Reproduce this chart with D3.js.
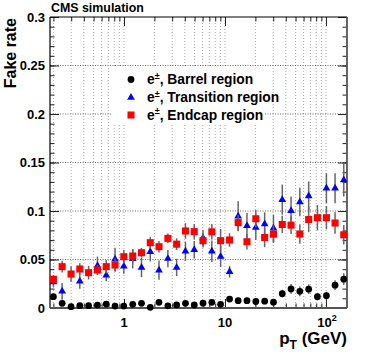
<!DOCTYPE html>
<html>
<head>
<meta charset="utf-8">
<script src="https://cdn.jsdelivr.net/npm/d3@7"></script>
<style>
  body { margin: 0; background: #fff; }
  svg { display: block; font-family: "Liberation Sans", Arial, sans-serif; font-weight: bold; }
</style>
</head>
<body>
<div id="chart"></div>
<script>
// pT bin positions (GeV)
const pt = [0.2, 0.244, 0.299, 0.365, 0.446, 0.546, 0.667, 0.815, 0.996, 1.22, 1.49, 1.82, 2.22, 2.72, 3.32, 4.06, 4.96,
    6.06, 7.41, 9.05, 11.1, 13.5, 16.5, 20.2, 24.7, 30.2, 36.9, 45.1, 55.1, 67.4, 82.3, 101, 123, 150];
// fake rates per region
const barrel = [0.0117, 0.0048, 0.0014, 0.0024, 0.0024, 0.003, 0.0041, 0.002, 0.002, 0.0038, 0.0048, 0.0007, 0.0058, 0.0022,
    0.0032, 0.0048, 0.0032, 0.005, 0.0058, 0.0038, 0.0092, 0.0076, 0.0076, 0.0067, 0.007, 0.006, 0.0148, 0.0197, 0.0172,
    0.0194, 0.0117, 0.0127, 0.0235, 0.0297];
const barrelErr = [0.003, 0.002, 0.001, 0.0015, 0.0015, 0.0015, 0.002, 0.0015, 0.0015, 0.002, 0.002, 0.001, 0.002, 0.0015,
    0.002, 0.002, 0.002, 0.002, 0.0025, 0.002, 0.003, 0.003, 0.003, 0.003, 0.003, 0.003, 0.004, 0.005, 0.005, 0.005, 0.004,
    0.004, 0.005, 0.006];
const transition = [0.0268, 0.0172, null, 0.0275, null, 0.0435, 0.0337, 0.0502, 0.043, 0.0508, 0.0418, 0.058, 0.039, 0.0509,
    0.0418, 0.0585, 0.06, 0.0722, 0.0585, 0.0532, 0.0374, 0.0945, 0.0849, 0.0831, 0.0866, 0.0823, 0.1117, 0.1003, 0.1093,
    0.1155, null, 0.1234, 0.1234, 0.132];
const transitionErr = [0.005, 0.0086, null, 0.0077, null, 0.0095, 0.006, 0.012, 0.0077, 0.01, 0.01, 0.01, 0.01, 0.009, 0.009,
    0.01, 0.009, 0.008, 0.011, 0.011, 0.006, 0.0155, 0.013, 0.013, 0.012, 0.014, 0.0155, 0.0146, 0.0146, 0.015, null, 0.0155,
    0.0155, 0.017];
const endcap = [0.0296, 0.0426, 0.035, 0.0402, 0.0364, 0.0392, 0.0426, 0.0443, 0.0529, 0.0536, 0.057, 0.0673, 0.0632, 0.0718,
    0.0658, 0.0794, 0.0787, 0.0694, 0.0785, 0.0694, 0.0701, 0.088, 0.0683, 0.092, 0.0727, 0.0761, 0.0861, 0.0854, 0.0763,
    0.0912, 0.0931, 0.0931, 0.0876, 0.0755];
const endcapErr = [0.0045, 0.006, 0.008, 0.006, 0.007, 0.005, 0.007, 0.007, 0.007, 0.007, 0.005, 0.006, 0.006, 0.005, 0.006,
    0.008, 0.008, 0.007, 0.008, 0.012, 0.007, 0.008, 0.008, 0.009, 0.01, 0.009, 0.009, 0.009, 0.01, 0.013, 0.013, 0.012, 0.011,
    0.01];
// axis ticks
const xMajor = [1, 10, 100];
const xMinor = [0.2, 0.3, 0.4, 0.5, 0.6, 0.7, 0.8, 0.9, 2, 3, 4, 5, 6, 7, 8, 9, 20, 30, 40, 50, 60, 70, 80, 90];
const xLabels = ["1", "10", "10"];
const yMajor = [0, 0.05, 0.1, 0.15, 0.2, 0.25, 0.3];
const yLabels = ["0", "0.05", "0.1", "0.15", "0.2", "0.25", "0.3"];
const yMinor = d3.range(0, 0.301, 0.01);
const legendLabels = ["Barrel region", "Transition region", "Endcap region"];

const width = 374, height = 355;
const plotL = 50, plotR = 347, plotT = 17, plotB = 308;

const svg = d3.select("#chart").append("svg")
    .attr("width", width)
    .attr("height", height);

const x = d3.scaleLog().domain([0.185, 161.5]).range([plotL, plotR]);
const y = d3.scaleLinear().domain([0, 0.3]).range([plotB, plotT]);

// grid
svg.append("g").selectAll("line")
    .data(xMajor.concat(xMinor))
    .join("line")
    .attr("x1", d => x(d)).attr("x2", d => x(d))
    .attr("y1", plotT).attr("y2", plotB)
    .attr("stroke", "#aaa").attr("stroke-width", 1).attr("stroke-dasharray", "1,2");
svg.append("g").selectAll("line")
    .data(yMajor.slice(1, -1))
    .join("line")
    .attr("x1", plotL).attr("x2", plotR)
    .attr("y1", d => y(d)).attr("y2", d => y(d))
    .attr("stroke", "#666").attr("stroke-width", 1).attr("stroke-dasharray", "1,1.5");

// legend box hides the grid behind it
svg.append("rect")
    .attr("x", 111).attr("y", 68).attr("width", 154).attr("height", 56)
    .attr("fill", "#fff");

// axes (ticks inward)
const tickAxis = (axis, len, tv, tr) => svg.append("g")
    .attr("transform", tr)
    .call(axis.tickValues(tv).tickSize(len).tickFormat(""))
    .call(g => g.select(".domain").remove())
    .call(g => g.selectAll("line").attr("stroke", "#222"));
tickAxis(d3.axisTop(x), 9, xMajor, `translate(0,${plotB})`);
tickAxis(d3.axisTop(x), 4.5, xMinor, `translate(0,${plotB})`);
tickAxis(d3.axisBottom(x), 9, xMajor, `translate(0,${plotT})`);
tickAxis(d3.axisBottom(x), 4.5, xMinor, `translate(0,${plotT})`);
tickAxis(d3.axisRight(y), 9, yMajor, `translate(${plotL},0)`);
tickAxis(d3.axisRight(y), 4.5, yMinor, `translate(${plotL},0)`);
tickAxis(d3.axisLeft(y), 9, yMajor, `translate(${plotR},0)`);
tickAxis(d3.axisLeft(y), 4.5, yMinor, `translate(${plotR},0)`);

// frame
svg.append("line").attr("x1", plotL).attr("x2", plotL).attr("y1", plotT).attr("y2", plotB)
    .attr("stroke", "#000").attr("stroke-width", 1.2);
svg.append("line").attr("x1", plotL).attr("x2", plotR).attr("y1", plotT).attr("y2", plotT)
    .attr("stroke", "#000").attr("stroke-width", 1);
svg.append("line").attr("x1", plotR).attr("x2", plotR).attr("y1", plotT).attr("y2", plotB)
    .attr("stroke", "#555").attr("stroke-width", 1.8);
svg.append("line").attr("x1", plotL).attr("x2", plotR).attr("y1", plotB).attr("y2", plotB)
    .attr("stroke", "#555").attr("stroke-width", 1.8);

// tick labels
svg.append("g").selectAll("text")
    .data(yMajor)
    .join("text")
    .attr("x", 45).attr("y", d => y(d) + 4.7)
    .attr("text-anchor", "end")
    .attr("font-size", 13)
    .text((d, i) => yLabels[i]);
const xl = svg.append("g").selectAll("text")
    .data(xMajor)
    .join("text")
    .attr("x", d => x(d) + (d === 100 ? 1 : 0)).attr("y", 327)
    .attr("text-anchor", "middle")
    .attr("font-size", 13)
    .text((d, i) => xLabels[i]);
xl.filter(d => d === 100).append("tspan")
    .attr("font-size", 9).attr("dy", -6).text("2");

// titles
svg.append("text").attr("x", 51).attr("y", 11.6).attr("font-size", 12.4).text("CMS simulation");
svg.append("text")
    .attr("transform", "translate(15.5,18) rotate(-90)")
    .attr("text-anchor", "end")
    .attr("font-size", 16)
    .text("Fake rate");
const xt = svg.append("text").attr("x", 347).attr("y", 344).attr("text-anchor", "end").attr("font-size", 17);
xt.append("tspan").text("p");
xt.append("tspan").attr("font-size", 12).attr("dy", 5).text("T");
xt.append("tspan").attr("dy", -5).text(" (GeV)");

// series
const series = [
    { vals: barrel, errs: barrelErr, color: "#000", shape: d3.symbolCircle, size: 36 },
    { vals: transition, errs: transitionErr, color: "#0000ff", shape: d3.symbolTriangle, size: 26 },
    { vals: endcap, errs: endcapErr, color: "#ff0000", shape: d3.symbolSquare, size: 50 }
];

series.forEach(s => {
    const pts = pt.map((p, i) => ({ p: p, v: s.vals[i], e: s.errs[i] })).filter(d => d.v !== null);
    const g = svg.append("g");
    g.selectAll("line")
        .data(pts)
        .join("line")
        .attr("x1", d => x(d.p)).attr("x2", d => x(d.p))
        .attr("y1", d => y(d.v - d.e)).attr("y2", d => y(d.v + d.e))
        .attr("stroke", "#666").attr("stroke-width", 1.5);
    g.selectAll("path")
        .data(pts)
        .join("path")
        .attr("transform", d => `translate(${x(d.p)},${y(d.v)})`)
        .attr("d", d3.symbol().type(s.shape).size(s.size))
        .attr("fill", s.color);
});

// legend
const legendY = [79.5, 97.5, 115];
series.forEach((s, i) => {
    svg.append("path")
        .attr("transform", `translate(131,${legendY[i]})`)
        .attr("d", d3.symbol().type(s.shape).size(s.size))
        .attr("fill", s.color);
    const t = svg.append("text").attr("x", 147).attr("y", legendY[i] + 4.8).attr("font-size", 13.8);
    t.append("tspan").text("e");
    t.append("tspan").attr("font-size", 9).attr("dy", -5.5).text("\u00b1");
    t.append("tspan").attr("dy", 5.5).text(", " + legendLabels[i]);
});
</script>
</body>
</html>
